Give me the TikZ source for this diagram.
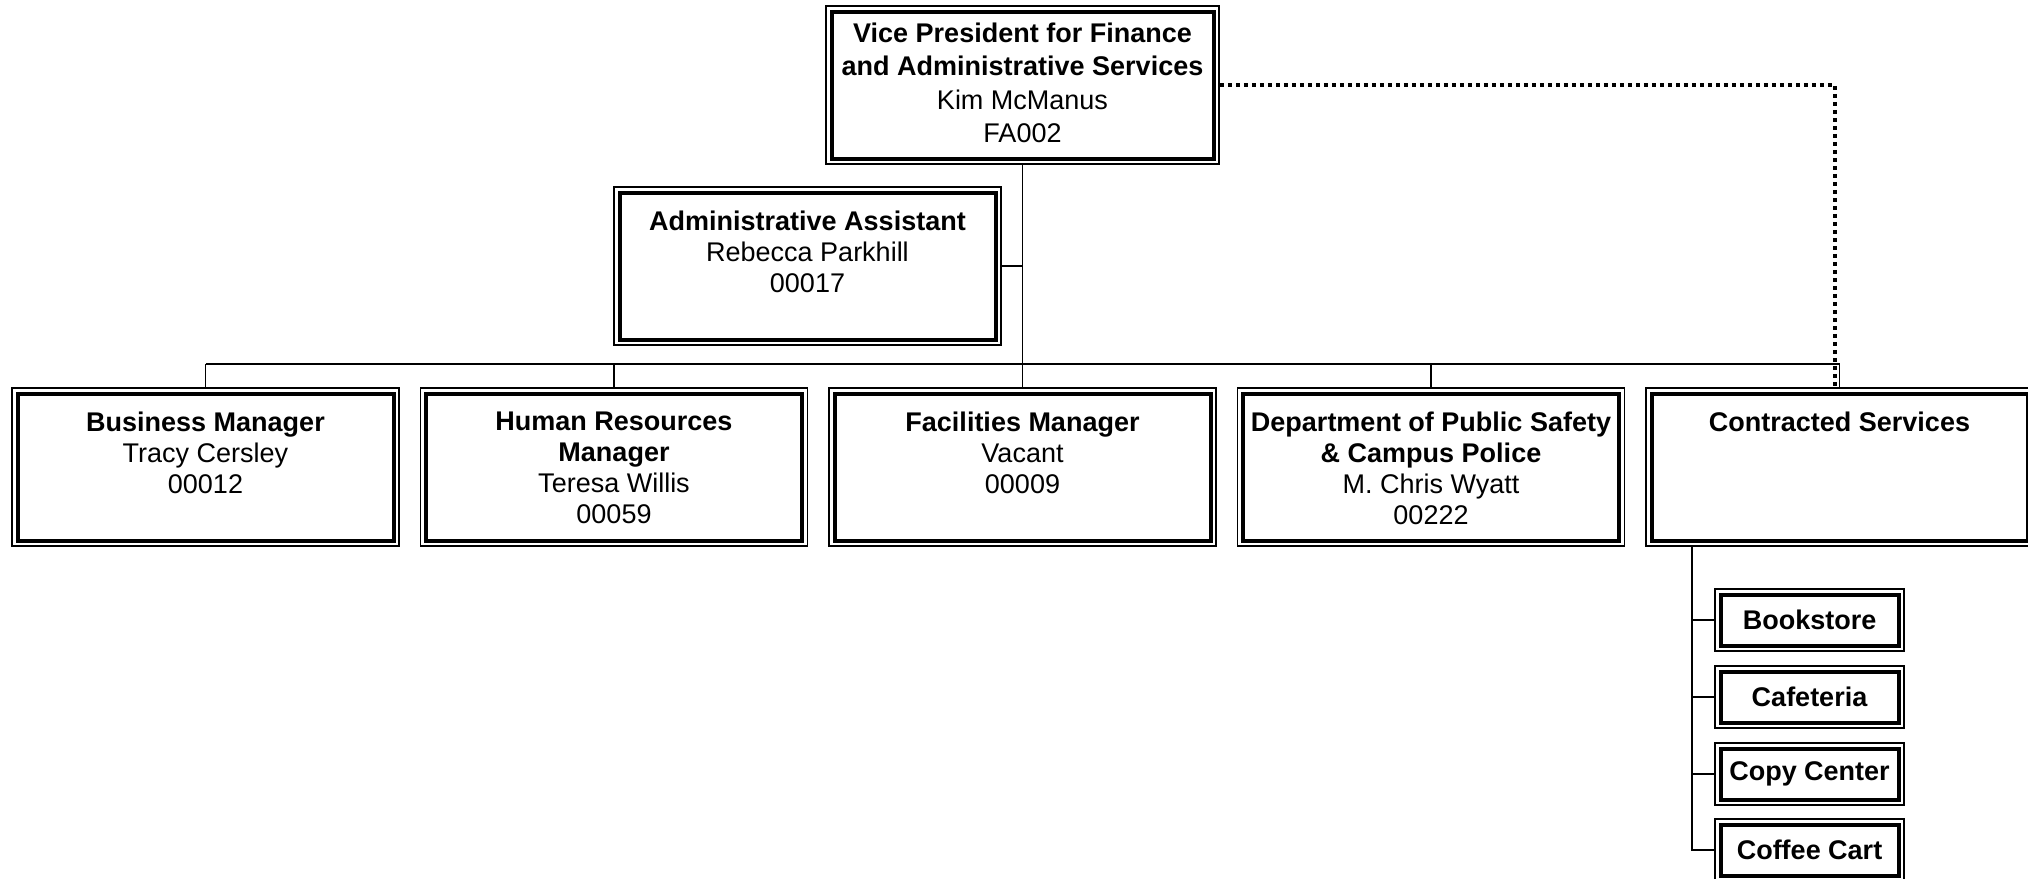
\documentclass[tikz,border=0pt]{standalone}
\usepackage{fontspec}
\setmainfont{Liberation Sans}
\begin{document}
\begin{tikzpicture}[x=0.5pt,y=-0.5pt,
  conn/.style={line width=0.85pt},
  dotconn/.style={line width=1.7pt, dash pattern=on 2pt off 2pt},
  orgbox/.style={draw, line width=0.85pt, inner sep=0pt, minimum width=#1, minimum height=79pt,
    path picture={\draw[line width=2pt]
      ([shift={(2.75pt,2.75pt)}]path picture bounding box.south west) rectangle
      ([shift={(-2.75pt,-2.75pt)}]path picture bounding box.north east);}},
  orgbox/.default=193.5pt,
  smallbox/.style={orgbox, minimum width=94.5pt, minimum height=31pt,
    font=\fontsize{13.5}{15.4}\selectfont\bfseries},
  txt/.style={anchor=north, inner sep=0pt, align=center, font=\fontsize{13.5}{15.4}\selectfont}
]
\useasboundingbox (0,0) rectangle (2028,878);

% boxes
\node[orgbox=196.5pt] (vp) at (1022.5,85) {};
\node[orgbox] (aa) at (807.5,266) {};
\node[orgbox] (bm) at (205.5,467) {};
\node[orgbox] (hr) at (614,467) {};
\node[orgbox] (fm) at (1022.5,467) {};
\node[orgbox] (ps) at (1431,467) {};
\node[orgbox] (cs) at (1839.5,467) {};
\node[smallbox] (bk) at (1809.5,620) {Bookstore};
\node[smallbox] (cf) at (1809.5,697) {Cafeteria};
\node[smallbox] (cp) at (1809.5,774) {Copy Center};
\node[smallbox] (cc) at (1809.5,850) {Coffee Cart};

% texts
\node[txt, font=\fontsize{13.5}{16.8}\selectfont] (vp-t) at ([yshift=-8.5pt]vp.north) {\textbf{Vice President for Finance}\\\textbf{and Administrative Services}\\Kim McManus\\FA002};
\node[txt] (aa-t) at ([yshift=-12.3pt]aa.north) {\textbf{Administrative Assistant}\\Rebecca Parkhill\\00017};
\node[txt] (bm-t) at ([yshift=-12.3pt]bm.north) {\textbf{Business Manager}\\Tracy Cersley\\00012};
\node[txt] (hr-t) at ([yshift=-12.3pt]hr.north) {\textbf{Human Resources}\\\textbf{Manager}\\Teresa Willis\\00059};
\node[txt] (fm-t) at ([yshift=-12.3pt]fm.north) {\textbf{Facilities Manager}\\Vacant\\00009};
\node[txt] (ps-t) at ([yshift=-12.3pt]ps.north) {\textbf{Department of Public Safety}\\\textbf{\& Campus Police}\\M. Chris Wyatt\\00222};
\node[txt] (cs-t) at ([yshift=-12.3pt]cs.north) {\textbf{Contracted Services}};

% connectors
\coordinate (bus) at ([yshift=11.5pt]fm.north);
\draw[conn] (vp.south) -- (bus);
\draw[conn] (aa.east) -- (vp.south |- aa.east);
\draw[conn] (bm.north |- bus) -- (cs.north |- bus);
\foreach \n in {bm,hr,fm,ps,cs}
  \draw[conn] (\n.north) -- (\n.north |- bus);
\draw[dotconn] (vp.east) -| ([xshift=-2.25pt]cs.north);

\coordinate (cv) at ([xshift=23.5pt]cs.south west);
\draw[conn] (cv) |- (cc.west);
\foreach \n in {bk,cf,cp}
  \draw[conn] (cv |- \n.west) -- (\n.west);
\end{tikzpicture}
\end{document}
